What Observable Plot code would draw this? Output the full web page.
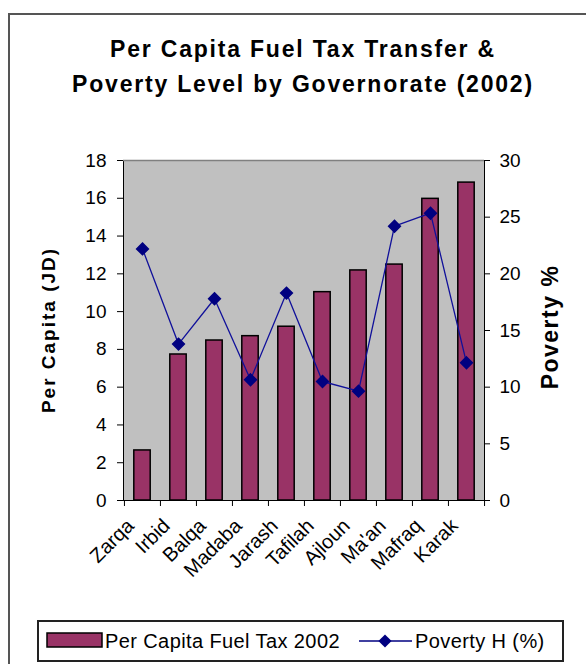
<!DOCTYPE html>
<html>
<head>
<meta charset="utf-8">
<script src="https://cdn.jsdelivr.net/npm/d3@7"></script>
<script src="https://cdn.jsdelivr.net/npm/@observablehq/plot@0.6"></script>
<style>
  html, body { margin: 0; padding: 0; background: #fff; overflow: hidden; }
  #wrap { position: relative; width: 586px; height: 664px; font-family: "Liberation Sans", Arial, sans-serif; }
  #border { position: absolute; left: 8px; top: 13px; width: 620px; height: 700px; border: 2px solid #555; box-sizing: border-box; }
  #title { position: absolute; left: 0; width: 606px; top: 32px; text-align: center; font-weight: bold; font-size: 23px; line-height: 35px; letter-spacing: 1.8px; color: #000; }
  .ylab { position: absolute; font-weight: bold; white-space: nowrap; transform: translate(-50%, -50%) rotate(-90deg); color: #000; }
  #chart { position: absolute; left: 0; top: 0; }
  #legend { position: absolute; left: 37px; top: 620px; width: 527px; height: 42px; border: 2px solid #222; box-sizing: border-box; font-size: 20px; }
  #legend svg { position: absolute; left: 0; top: 0; }
</style>
</head>
<body>
<div id="wrap">
  <div id="border"></div>
  <div id="title">Per Capita Fuel Tax Transfer &amp;<br>Poverty Level by Governorate (2002)</div>
  <div id="chart"></div>
  <div class="ylab" id="ylabL" style="left:49px; top:330px; font-size:19px; letter-spacing:2px;">Per Capita (JD)</div>
  <div class="ylab" id="ylabR" style="left:550px; top:327px; font-size:23px; letter-spacing:1.5px;">Poverty %</div>
  <div id="legend"></div>
</div>
<script>
const categories = ["Zarqa","Irbid","Balqa","Madaba","Jarash","Tafilah","Ajloun","Ma'an","Mafraq","Karak"];
const fuelTax = [2.65, 7.73, 8.47, 8.7, 9.2, 11.03, 12.18, 12.49, 15.97, 16.83];
const poverty = [22.2, 13.8, 17.8, 10.65, 18.3, 10.5, 9.65, 24.2, 25.35, 12.15];
const leftTicks = [0, 2, 4, 6, 8, 10, 12, 14, 16, 18];
const rightTicks = [0, 5, 10, 15, 20, 25, 30];
const leftMax = 18, rightMax = 30;
const seriesNames = ["Per Capita Fuel Tax 2002", "Poverty H (%)"];

const k = leftMax / rightMax; // map poverty % onto the left axis scale
const data = categories.map((name, i) => ({name, tax: fuelTax[i], pov: poverty[i]}));

const W = 586, H = 620, mL = 123, mR = 102, mT = 160, mB = 120;
const bw = (W - mL - mR) / categories.length;

const barColor = "#993366", lineColor = "#000080";

const chart = Plot.plot({
  width: W, height: H,
  marginLeft: mL, marginRight: mR, marginTop: mT, marginBottom: mB,
  style: {fontFamily: "'Liberation Sans', Arial, sans-serif", fontSize: "19px", background: "transparent", overflow: "visible", color: "#000"},
  x: {type: "band", domain: categories, padding: 0, label: null},
  y: {domain: [0, leftMax], label: null},
  marks: [
    Plot.frame({fill: "#c0c0c0", stroke: "#000"}),
    Plot.ruleY([leftMax], {stroke: "#808080", strokeWidth: 1.5}),
    Plot.barY(data, {x: "name", y: "tax", fill: barColor, stroke: "#000", strokeWidth: 1.5, insetLeft: 9.8, insetRight: 9.8}),
    Plot.line(data, {x: "name", y: d => d.pov * k, stroke: "#10109a", strokeWidth: 1.3}),
    Plot.dot(data, {x: "name", y: d => d.pov * k, symbol: "diamond2", r: 5.3, fill: lineColor, stroke: lineColor}),
    Plot.axisY(leftTicks, {anchor: "left", tickSize: 6, tickPadding: 11, label: null, fontSize: 19, style: {letterSpacing: "0.8px"}}),
    Plot.axisY(rightTicks.map(v => v * k), {anchor: "right", tickSize: 5, tickPadding: 10, label: null, tickFormat: d => String(Math.round(d / k)), fontSize: 19}),
    Plot.axisX(categories, {tickSize: 6, tickFormat: () => "", dx: -bw / 2, label: null}),
    Plot.axisX([categories[categories.length - 1]], {tickSize: 6, tickFormat: () => "", dx: bw / 2, label: null}),
    Plot.axisX(categories, {tickSize: 0, tickRotate: -45, tickPadding: 22, dx: -12, label: null, fontSize: 20})
  ]
});
document.getElementById("chart").appendChild(chart);

// legend
const lg = d3.select("#legend").append("svg").attr("width", 523).attr("height", 38);
lg.append("rect").attr("x", 8).attr("y", 11).attr("width", 55).attr("height", 14).attr("fill", barColor).attr("stroke", "#000").attr("stroke-width", 1.5);
lg.append("text").attr("x", 66).attr("y", 26).attr("font-size", 20).attr("font-family", "'Liberation Sans', Arial, sans-serif").attr("letter-spacing", 0.4).text(seriesNames[0]);
lg.append("line").attr("x1", 320).attr("x2", 373).attr("y1", 19).attr("y2", 19).attr("stroke", lineColor).attr("stroke-width", 1.5);
lg.append("path").attr("d", d3.symbol(d3.symbolDiamond2, 110)()).attr("transform", "translate(346,19)").attr("fill", lineColor);
lg.append("text").attr("x", 376).attr("y", 26).attr("font-size", 20).attr("font-family", "'Liberation Sans', Arial, sans-serif").attr("letter-spacing", 0.4).text(seriesNames[1]);
</script>
</body>
</html>
